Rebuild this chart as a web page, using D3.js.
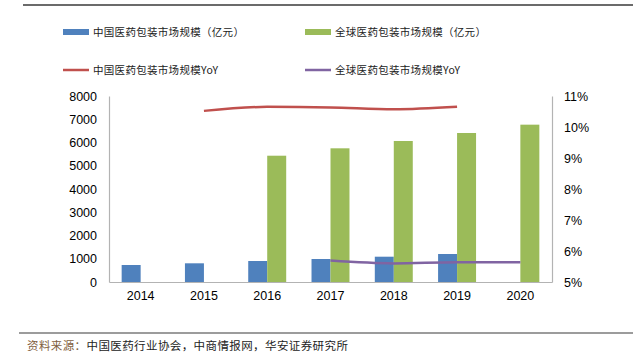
<!DOCTYPE html>
<html><head><meta charset="utf-8">
<script src="https://cdn.jsdelivr.net/npm/d3@7"></script>
<style>body{margin:0;background:#fff;}svg{display:block;}</style>
</head><body>
<svg id="c" width="633" height="356"></svg>
<script>
const years = ["2014","2015","2016","2017","2018","2019","2020"];
const chinaSize = [731, 804, 903, 989, 1088, 1204, null];
const globalSize = [null, null, 5432, 5750, 6065, 6409, 6767];
const chinaYoY = [null, 10.52, 10.65, 10.63, 10.57, 10.65, null];
const globalYoY = [null, null, null, 5.69, 5.60, 5.64, 5.64];
const leftTicks = [0,1000,2000,3000,4000,5000,6000,7000,8000];
const rightTicks = [5,6,7,8,9,10,11];
const legendNames = ["中国医药包装市场规模（亿元）","全球医药包装市场规模（亿元）","中国医药包装市场规模YoY","全球医药包装市场规模YoY"];
const colors = {blue:"#4f81bd", green:"#9bbb59", red:"#c0504d", purple:"#8064a2"};

const svg = d3.select("#c");
const L=109, R=552, T=96, B=282;
const x = d3.scaleBand().domain(years).range([L,R]);
const y = d3.scaleLinear().domain([0,8000]).range([B,T]);
const y2 = d3.scaleLinear().domain([5,11]).range([B,T]);
const bw = x.bandwidth()*0.3;

// frame lines
svg.append("line").attr("x1",23).attr("x2",633).attr("y1",5).attr("y2",5).attr("stroke","#3a3a3a").attr("stroke-width",1.5);
svg.append("line").attr("x1",19).attr("x2",633).attr("y1",333).attr("y2",333).attr("stroke","#3a3a3a").attr("stroke-width",1.2);

// axes
const axL = svg.append("g").attr("transform",`translate(${L},0)`).call(d3.axisLeft(y).tickValues(leftTicks).tickSize(0).tickPadding(12).tickFormat(d3.format("d")));
const axR = svg.append("g").attr("transform",`translate(${R},0)`).call(d3.axisRight(y2).tickValues(rightTicks).tickSize(0).tickPadding(12).tickFormat(d=>d+"%"));
const axB = svg.append("g").attr("transform",`translate(0,${B})`).call(d3.axisBottom(x).tickSize(0).tickPadding(9));
[axL,axR,axB].forEach(g=>{
  g.select(".domain").attr("stroke","#b3b3b3").attr("stroke-width",1.2);
  g.selectAll("text").attr("font-family","Liberation Sans, Arial, sans-serif").attr("font-size",12.5).attr("fill","#000");
});

// bars
svg.append("g").selectAll("rect").data(years.map((yr,i)=>({yr,v:chinaSize[i]})).filter(d=>d.v!=null))
  .join("rect").attr("x",d=>x(d.yr)+x.bandwidth()/2-bw).attr("width",bw)
  .attr("y",d=>y(d.v)).attr("height",d=>B-y(d.v)).attr("fill",colors.blue);
svg.append("g").selectAll("rect").data(years.map((yr,i)=>({yr,v:globalSize[i]})).filter(d=>d.v!=null))
  .join("rect").attr("x",d=>x(d.yr)+x.bandwidth()/2).attr("width",bw)
  .attr("y",d=>y(d.v)).attr("height",d=>B-y(d.v)).attr("fill",colors.green);

// lines
const line = d3.line().defined(d=>d.v!=null).x(d=>x(d.yr)+x.bandwidth()/2).y(d=>y2(d.v)).curve(d3.curveMonotoneX);
svg.append("path").datum(years.map((yr,i)=>({yr,v:chinaYoY[i]})).filter(d=>d.v!=null))
  .attr("d",line).attr("fill","none").attr("stroke",colors.red).attr("stroke-width",2.5);
svg.append("path").datum(years.map((yr,i)=>({yr,v:globalYoY[i]})).filter(d=>d.v!=null))
  .attr("d",line).attr("fill","none").attr("stroke",colors.purple).attr("stroke-width",2.5);

// legend
const lg = [
  {x:63,y:32,c:colors.blue,t:"rect"},
  {x:305,y:32,c:colors.green,t:"rect"},
  {x:63,y:70,c:colors.red,t:"line"},
  {x:305,y:70,c:colors.purple,t:"line"}
];
lg.forEach((d,i)=>{
  if(d.t==="rect") svg.append("rect").attr("x",d.x).attr("y",d.y-3).attr("width",26).attr("height",6).attr("fill",d.c);
  else svg.append("line").attr("x1",d.x).attr("x2",d.x+26).attr("y1",d.y).attr("y2",d.y).attr("stroke",d.c).attr("stroke-width",2.5);
  svg.append("text").attr("x",d.x+30).attr("y",d.y+4).text(legendNames[i])
    .attr("font-family","Noto Sans CJK SC, sans-serif").attr("font-size",10.5).attr("letter-spacing",0.3).attr("fill","#222");
});

// source
const src = svg.append("text").attr("x",27).attr("y",350).attr("font-family","Noto Sans CJK SC, sans-serif").attr("font-size",11.5).attr("letter-spacing",0.4);
src.append("tspan").attr("fill","#7f6040").text("资料来源：");
src.append("tspan").attr("fill","#222").text("中国医药行业协会，中商情报网，华安证券研究所");
</script>
</body></html>
